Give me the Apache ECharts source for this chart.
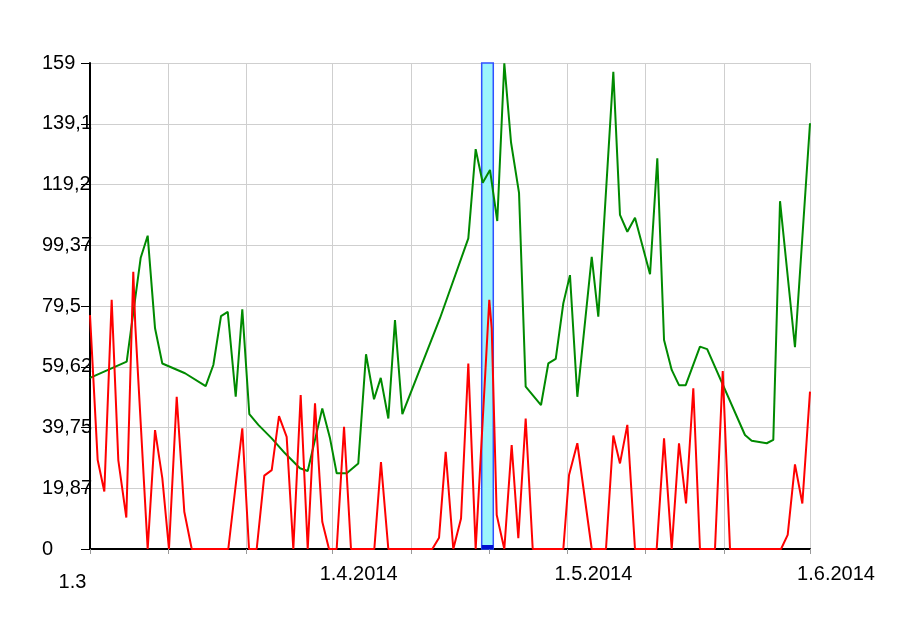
<!DOCTYPE html>
<html>
<head>
<meta charset="utf-8">
<script src="https://cdn.jsdelivr.net/npm/echarts@6/dist/echarts.min.js"></script>
<style>html,body{margin:0;padding:0;background:#fff;}#c{width:900px;height:630px;}</style>
</head>
<body>
<div id="c"></div>
<script>
// x = days since 1.3.2014
const redDays = [0,0.98,1.83,2.77,3.62,4.64,5.53,5.79,7.37,8.31,9.24,10.09,11.08,12.05,13.0,17.67,19.46,20.32,21.30,22.27,23.22,24.15,25.13,25.98,26.92,27.82,28.75,29.68,30.54,31.52,32.46,33.35,36.33,37.18,38.12,43.74,44.60,45.45,46.42,47.41,48.34,49.28,51.02,51.33,51.97,52.94,53.88,54.73,55.67,56.57,60.48,61.21,62.27,64.11,65.93,66.87,67.72,68.66,69.64,72.41,73.35,74.33,75.26,76.16,77.09,77.94,79.86,80.85,81.78,88.30,89.15,90.08,91.02,92];
const redValues = [76.5,29.1,18.8,81.5,29.0,10.3,90.7,73,0,38.9,23.2,0,49.8,12.2,0,0,39.5,0,0,24.0,25.8,43.5,36.7,0,50.4,0,47.7,8.9,0,0,40.0,0,0,28.4,0,0,3.7,31.8,0,10.0,60.7,0,81.5,72.2,11.1,0,34.0,3.5,42.7,0,0,24.2,34.6,0,0,37.1,28.0,40.6,0,0,36.2,0,34.6,14.9,52.6,0,0,58.2,0,0,4.6,27.7,14.9,51.5];
const greenDays = [0,4.69,6.48,7.37,8.31,9.24,12.14,14.78,15.76,16.74,17.60,18.62,19.46,20.36,21.51,23.22,24.92,26.83,27.82,29.68,30.67,31.52,32.80,34.28,35.27,36.29,37.15,38.12,38.97,39.91,44.72,48.34,49.28,50.18,51.11,52.04,52.94,53.80,54.82,55.67,57.63,58.56,59.51,60.48,61.33,62.27,64.11,64.95,66.87,67.72,68.66,69.64,71.56,72.49,73.35,74.33,75.26,76.12,77.94,78.86,83.69,84.55,86.47,87.31,88.17,90.08,92];
const greenValues = [56.0,61.3,95.3,102.5,72.2,60.7,57.5,53.3,60.2,76.2,77.6,49.8,78.4,44.1,40.6,36.2,31.3,26.4,25.5,46.0,36.2,24.8,24.8,28.0,63.7,49.0,56.0,42.7,74.9,44.1,75.5,101.6,130.8,119.8,124.0,107.3,158.9,133.0,116.5,53.1,47.1,60.7,62.2,80.4,89.6,49.8,95.6,76.0,156.1,109.3,103.8,108.4,89.9,127.8,68.4,58.6,53.6,53.6,66.2,65.4,37.3,35.4,34.6,35.7,113.8,66.0,139.3];
const gridDays = [0,10,20,31,41,51,61,71,81,92];
const labelDays = [0,31,61,92];
const xLabels = {0:'1.3',31:'1.4.2014',61:'1.5.2014',92:'1.6.2014'};
const yTickLabels = ['0','19,87','39,75','59,62','79,5','99,37','119,2','139,1','159'];
const bandRange = [50.05,51.53];

const zip = (xs, ys) => xs.map((x,i)=>[x, ys[i]]);
const chart = echarts.init(document.getElementById('c'), null, {renderer:'canvas'});
const font = "'Liberation Sans', Arial, sans-serif";
chart.setOption({
  animation:false,
  backgroundColor:'#fff',
  grid:{left:90,right:90,top:63,bottom:81,containLabel:false},
  xAxis:{
    type:'value',min:0,max:92,
    axisLine:{show:true,lineStyle:{color:'#000',width:2}},
    axisTick:{show:true,customValues:gridDays,length:5,lineStyle:{color:'#999'}},
    splitLine:{show:true,lineStyle:{color:'#cfcfcf',width:1}},
    axisLabel:{
      customValues:labelDays,
      margin:15,
      fontFamily:font,fontSize:20,color:'#000',
      formatter:(v)=>{
        const t = xLabels[Math.round(v)];
        if (Math.round(v)===0) return '{s|'+t+'}{padr|}';
        return '{padl|}{t|'+t+'}';
      },
      rich:{
        t:{fontFamily:font,fontSize:20,color:'#000'},
        s:{fontFamily:font,fontSize:20,color:'#000',padding:[8,0,0,0]},
        padl:{width:52},
        padr:{width:35}
      }
    }
  },
  yAxis:{
    type:'value',min:0,max:159,interval:19.875,
    axisLine:{show:true,lineStyle:{color:'#000',width:2}},
    axisTick:{show:true,length:9,lineStyle:{color:'#000'}},
    splitLine:{show:true,lineStyle:{color:'#cfcfcf',width:1}},
    axisLabel:{
      align:'left',margin:48,
      fontFamily:font,fontSize:20,color:'#000',
      formatter:(v)=>yTickLabels[Math.round(v/19.875)]
    }
  },
  series:[
    {
      type:'line',data:[],z:1,silent:true,
      markArea:{
        silent:true,
        data:[
          [{xAxis:bandRange[0],itemStyle:{color:'#9cf4fc',borderColor:'#3050ff',borderWidth:1.5}},{xAxis:bandRange[1]}],
          [{xAxis:bandRange[0],yAxis:0,itemStyle:{color:'#0010d0',borderWidth:0}},{xAxis:bandRange[1],yAxis:1.3}]
        ]
      }
    },
    {
      name:'green',type:'line',z:3,data:zip(greenDays,greenValues),
      showSymbol:false,symbol:'none',
      lineStyle:{color:'#008a00',width:2},itemStyle:{color:'#008a00'}
    },
    {
      name:'red',type:'line',z:4,data:zip(redDays,redValues),
      showSymbol:false,symbol:'none',
      lineStyle:{color:'#ff0000',width:2},itemStyle:{color:'#ff0000'}
    }
  ]
});
</script>
</body>
</html>
